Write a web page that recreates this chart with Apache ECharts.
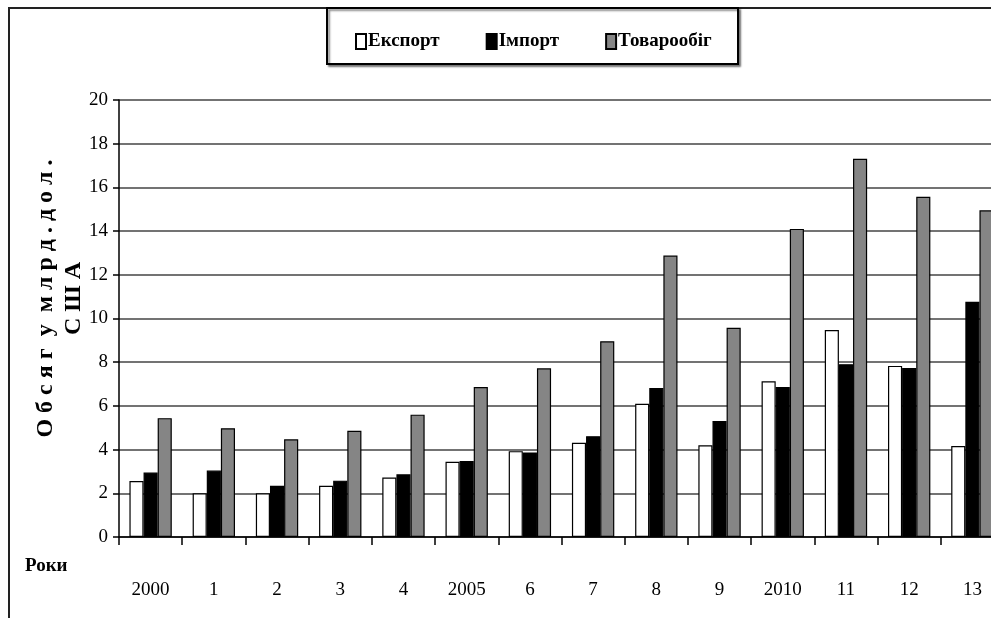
<!DOCTYPE html>
<html><head><meta charset="utf-8">
<script src="https://cdn.jsdelivr.net/npm/echarts/dist/echarts.min.js"></script>
<style>html,body{margin:0;padding:0;background:#fff}#c{width:991px;height:618px}</style>
</head><body><div id="c"></div>
<script>
const categories = ['2000','1','2','3','4','2005','6','7','8','9','2010','11','12','13'];
const exportData = [2.56,2.0,2.0,2.34,2.72,3.44,3.93,4.31,6.1,4.2,7.13,9.47,7.83,4.16];
const importData = [2.95,3.04,2.34,2.58,2.87,3.48,3.87,4.61,6.82,5.31,6.87,7.91,7.73,10.77];
const turnoverData = [5.44,4.98,4.47,4.86,5.6,6.86,7.72,8.96,12.88,9.58,14.1,17.31,15.57,14.95];
const seriesNames = ['Експорт','Імпорт','Товарообіг'];
const seriesColors = ['#ffffff','#000000','#858585'];
const yAxisName = 'О б с я г  у  м л р д . д о л .\nС Ш А';
const xAxisName = 'Роки';

const FONT = '"Liberation Serif", "Times New Roman", serif';
const chart = echarts.init(document.getElementById('c'));
const values = [exportData, importData, turnoverData];
chart.setOption({
  animation: false,
  backgroundColor: '#fff',
  textStyle: { fontFamily: FONT, color: '#000' },
  title: {
    text: xAxisName, left: 20, top: 552,
    textStyle: { fontFamily: FONT, fontWeight: 'bold', fontSize: 19, color: '#000' }
  },
  graphic: [
    { type: 'rect', z: 0, shape: { x: 9, y: 8, width: 1200, height: 800 },
      style: { fill: 'none', stroke: '#222', lineWidth: 2 } },
    { type: 'rect', z: 1, shape: { x: 327, y: 8, width: 411, height: 56 },
      style: { fill: '#fff', stroke: '#000', lineWidth: 2,
        shadowColor: 'rgba(0,0,0,0.45)', shadowOffsetX: 2, shadowOffsetY: 2, shadowBlur: 2 } }
  ],
  legend: {
    z: 5,
    left: 350, top: 27,
    itemWidth: 10, itemHeight: 15, itemGap: 46,
    icon: 'rect',
    textStyle: { fontFamily: FONT, fontWeight: 'bold', fontSize: 19, color: '#000', padding: [0,0,0,-3] },
    data: seriesNames
  },
  grid: { left: 119, top: 100, right: -13, bottom: 81, containLabel: false, outerBoundsMode: 'none' },
  xAxis: {
    type: 'category',
    data: categories,
    boundaryGap: true,
    axisLine: { lineStyle: { color: '#000', width: 1.5 } },
    axisTick: { show: true, length: 8, lineStyle: { color: '#000', width: 1.5 } },
    axisLabel: { fontFamily: FONT, fontSize: 19, color: '#000', margin: 44, interval: 0 },
    splitLine: { show: false }
  },
  yAxis: {
    type: 'value',
    min: 0, max: 20, interval: 2,
    name: yAxisName,
    nameLocation: 'middle',
    nameGap: 31,
    nameMoveOverlap: false,
    nameRotate: 90,
    nameTextStyle: { fontFamily: FONT, fontWeight: 'bold', fontSize: 24, lineHeight: 28, color: '#000', align: 'center', padding: [0,0,0,40] },
    axisLine: { show: true, lineStyle: { color: '#000', width: 1.5 } },
    axisTick: { show: true, length: 6, lineStyle: { color: '#000', width: 1.5 } },
    axisLabel: { fontFamily: FONT, fontSize: 19, color: '#000', margin: 11 },
    splitLine: { show: true, lineStyle: { color: '#444', width: 1.5 } }
  },
  series: seriesNames.map((n, i) => ({
    name: n,
    type: 'bar',
    data: values[i],
    barGap: '0%',
    barCategoryGap: '33%',
    itemStyle: { color: seriesColors[i], borderColor: '#000', borderWidth: 1.2 }
  }))
});
</script></body></html>
